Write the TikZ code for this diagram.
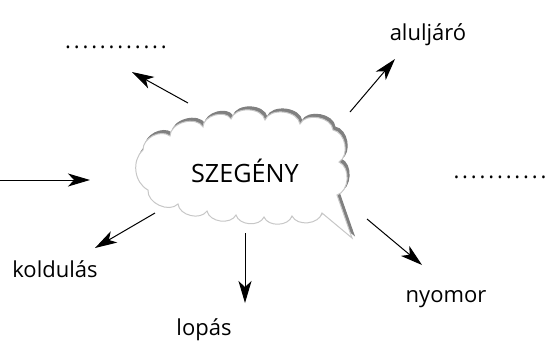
\documentclass[tikz,border=0pt]{standalone}
\usepackage{fontspec}
\setmainfont{Open Sans}
\usetikzlibrary{arrows.meta}

\begin{document}
\begin{tikzpicture}[x=0.5pt,y=-0.5pt,
    arr/.style={-{Stealth[length=11pt,width=6.5pt,inset=3pt]},line width=0.5pt},
    lbl/.style={font=\fontsize{11}{13}\selectfont,anchor=base,inner sep=0pt},
    dotrow/.style={font=\fontsize{11}{13}\selectfont\addfontfeature{LetterSpace=13},anchor=base,inner sep=0pt}]
      \useasboundingbox (0,0) rectangle (546,344);

      % shadow first, then the bubble itself
      \foreach \dx/\dy/\fc/\dc in {2/-3/black!50/black!50, 0/0/white/black!22}
        \draw[shift={(\dx,\dy)},fill=\fc,draw=\dc,line width=0.5pt]
          (143,150) to[bend left=65] (170,136) to[bend left=75] (203,127)
          to[bend left=75] (231,119) to[bend left=75] (265,120)
          to[bend left=75] (300,124) to[bend left=75] (333,130)
          to[bend left=70] (339,162) to[bend left=70] (337,195)
          -- (352,238) -- (322,213)
          to[bend left=70] (292,216) to[bend left=70] (264,217)
          to[bend left=70] (236,215) to[bend left=70] (207,211)
          to[bend left=70] (178,204) to[bend left=70] (148,190)
          to[bend left=55] cycle;

      \node[lbl,font=\fontsize{12.6}{15}\selectfont] (szegeny) at (245,182) {SZEGÉNY};

      \node[dotrow] (dotsl) at (116,48) {............};
      \node[dotrow] (dotsr) at (500,178.5) {...........};
      \node[lbl] (alul) at (428,40) {aluljáró};
      \node[lbl] (kold) at (55,277) {koldulás};
      \node[lbl] (lopas) at (204,335) {lopás};
      \node[lbl] (nyom) at (446,302) {nyomor};

      \coordinate (ul-s) at (188,103); \coordinate (ul-e) at (132,72);
      \coordinate (ur-s) at (350,112); \coordinate (ur-e) at (395,59);
      \coordinate (l-s) at (0,180);    \coordinate (l-e) at (90,180);
      \coordinate (dl-s) at (155,213); \coordinate (dl-e) at (95,248);
      \coordinate (d-s) at (245,233);  \coordinate (d-e) at (245,303);
      \coordinate (dr-s) at (367,219); \coordinate (dr-e) at (422,265);

      \draw[arr] (ul-s) -- (ul-e);
      \draw[arr] (ur-s) -- (ur-e);
      \draw[arr] (l-s) -- (l-e);
      \draw[arr] (dl-s) -- (dl-e);
      \draw[arr] (d-s) -- (d-e);
      \draw[arr] (dr-s) -- (dr-e);
    \end{tikzpicture}
\end{document}
